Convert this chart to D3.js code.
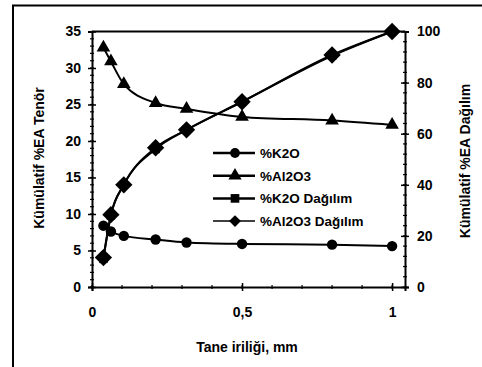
<!DOCTYPE html>
<html lang="tr">
<head>
<meta charset="utf-8">
<title>Kümülatif tenör ve dağılım</title>
<script src="https://cdn.jsdelivr.net/npm/d3@7"></script>
<style>
  body { margin: 0; background: #fff; }
  svg text { font-family: "Liberation Sans", Arial, sans-serif; font-weight: bold; fill: #000; }
  .tick text { font-size: 14px; }
</style>
</head>
<body>
<div id="viz"></div>
<script>
// grain size (mm)
var sizes = [0.038, 0.063, 0.106, 0.212, 0.315, 0.5, 0.8, 1.0];
// cumulative grade, left axis
var k2o   = [8.4, 7.6, 7.0, 6.5, 6.1, 5.9, 5.8, 5.6];
var al2o3 = [32.8, 30.9, 27.8, 25.2, 24.4, 23.3, 22.8, 22.2];
// cumulative distribution, right axis
var k2oDagilim   = [11.0, 28.0, 40.0, 54.0, 61.5, 72.5, 90.5, 100];
var al2o3Dagilim = [11.5, 28.3, 40.0, 54.5, 61.5, 72.5, 90.8, 100];

var leftTicks = [0, 5, 10, 15, 20, 25, 30, 35];
var rightTicks = [0, 20, 40, 60, 80, 100];
var xTicks = [0, 0.5, 1];

var W = 482, H = 367;
var margin = {top: 31.5, right: 77, bottom: 80, left: 92};
var width = W - margin.left - margin.right;
var height = H - margin.top - margin.bottom;

var svg = d3.select("#viz").append("svg")
  .attr("width", W)
  .attr("height", H);

// outer frame (cut off at right and bottom)
svg.append("path")
  .attr("d", "M13,367V5.5H482")
  .attr("fill", "none")
  .attr("stroke", "#000")
  .attr("stroke-width", 2);

var g = svg.append("g")
  .attr("transform", "translate(" + margin.left + "," + margin.top + ")");

var x = d3.scaleLinear().domain([0, 1.043]).range([0, width]);
var yL = d3.scaleLinear().domain([0, 35]).range([height, 0]);
var yR = d3.scaleLinear().domain([0, 100]).range([height, 0]);

// top border of plot
g.append("line")
  .attr("x1", 0).attr("x2", width).attr("y1", 0).attr("y2", 0)
  .attr("stroke", "#000").attr("stroke-width", 2);

function minor(axisG, positions, dir, len) {
  axisG.selectAll(".minor").data(positions).enter().append("line")
    .attr("class", "minor")
    .attr("stroke", "#000")
    .attr("stroke-width", 1.2)
    .each(function(p) {
      var s = d3.select(this);
      if (dir === "v") s.attr("x1", -len).attr("x2", len).attr("y1", p).attr("y2", p);
      else s.attr("y1", -len).attr("y2", len).attr("x1", p).attr("x2", p);
    });
}

// left axis
var gl = g.append("g")
  .call(d3.axisLeft(yL).tickValues(leftTicks).tickSize(4).tickPadding(7));
minor(gl, d3.range(0, 36, 1).map(yL), "v", 2);
gl.selectAll(".tick line").attr("x2", -4).attr("x1", 4);

// right axis
var gr = g.append("g")
  .attr("transform", "translate(" + width + ",0)")
  .call(d3.axisRight(yR).tickValues(rightTicks).tickSize(4).tickPadding(8));
minor(gr, d3.range(0, 101, 4).map(yR), "v", 2);
gr.selectAll(".tick line").attr("x1", -4).attr("x2", 4);

// bottom axis
var gb = g.append("g")
  .attr("transform", "translate(0," + height + ")")
  .call(d3.axisBottom(x).tickValues(xTicks).tickSize(4).tickPadding(16)
    .tickFormat(function(d) { return d === 0.5 ? "0,5" : d; }));
minor(gb, d3.range(0, 1.01, 0.1).map(x), "h", 2);
gb.selectAll(".tick line").attr("y1", -4).attr("y2", 4);

g.selectAll(".domain").attr("stroke-width", 2);
g.selectAll(".tick line").attr("stroke-width", 1.5);

// axis titles
svg.append("text")
  .attr("transform", "translate(44,158) rotate(-90)")
  .attr("text-anchor", "middle")
  .style("font-size", "14px")
  .text("Kümülatif %EA Tenör");
svg.append("text")
  .attr("transform", "translate(470,161) rotate(-90)")
  .attr("text-anchor", "middle")
  .style("font-size", "14px")
  .text("Kümülatif %EA Dağılım");
svg.append("text")
  .attr("x", 247).attr("y", 352)
  .attr("text-anchor", "middle")
  .style("font-size", "14px")
  .text("Tane iriliği, mm");

// rotated square, like the spreadsheet diamond marker
var diamond = {
  draw: function(ctx, size) {
    var r = Math.sqrt(size / 2);
    ctx.moveTo(0, -r); ctx.lineTo(r, 0); ctx.lineTo(0, r); ctx.lineTo(-r, 0); ctx.closePath();
  }
};

var series = [
  {name: "%K2O", values: k2o, y: yL, sym: d3.symbolCircle, size: 85},
  {name: "%Al2O3", values: al2o3, y: yL, sym: d3.symbolTriangle, size: 80},
  {name: "%K2O Dağılım", values: k2oDagilim, y: yR, sym: d3.symbolSquare, size: 70},
  {name: "%Al2O3 Dağılım", values: al2o3Dagilim, y: yR, sym: diamond, size: 150}
];

series.forEach(function(s) {
  var pts = sizes.map(function(v, i) { return [x(v), s.y(s.values[i])]; });
  g.append("path")
    .attr("d", d3.line().curve(d3.curveMonotoneX)(pts))
    .attr("fill", "none")
    .attr("stroke", "#000")
    .attr("stroke-width", 2);
  g.selectAll(null).data(pts).enter().append("path")
    .attr("transform", function(p) { return "translate(" + p[0] + "," + p[1] + ")"; })
    .attr("d", d3.symbol().type(s.sym).size(s.size))
    .attr("fill", "#000");
});

// legend
var leg = svg.append("g").attr("transform", "translate(213,153)");
series.forEach(function(s, i) {
  var row = leg.append("g").attr("transform", "translate(0," + (i * 22.7) + ")");
  row.append("line")
    .attr("x1", 0).attr("x2", 42)
    .attr("stroke", "#000").attr("stroke-width", i === 3 ? 1.5 : 2.5);
  row.append("path")
    .attr("transform", "translate(22,0)")
    .attr("d", d3.symbol().type(s.sym).size(i === 3 ? 70 : 75))
    .attr("fill", "#000");
  row.append("text")
    .attr("x", 47).attr("y", 5)
    .style("font-size", "13.5px")
    .text(s.name);
});
</script>
</body>
</html>
